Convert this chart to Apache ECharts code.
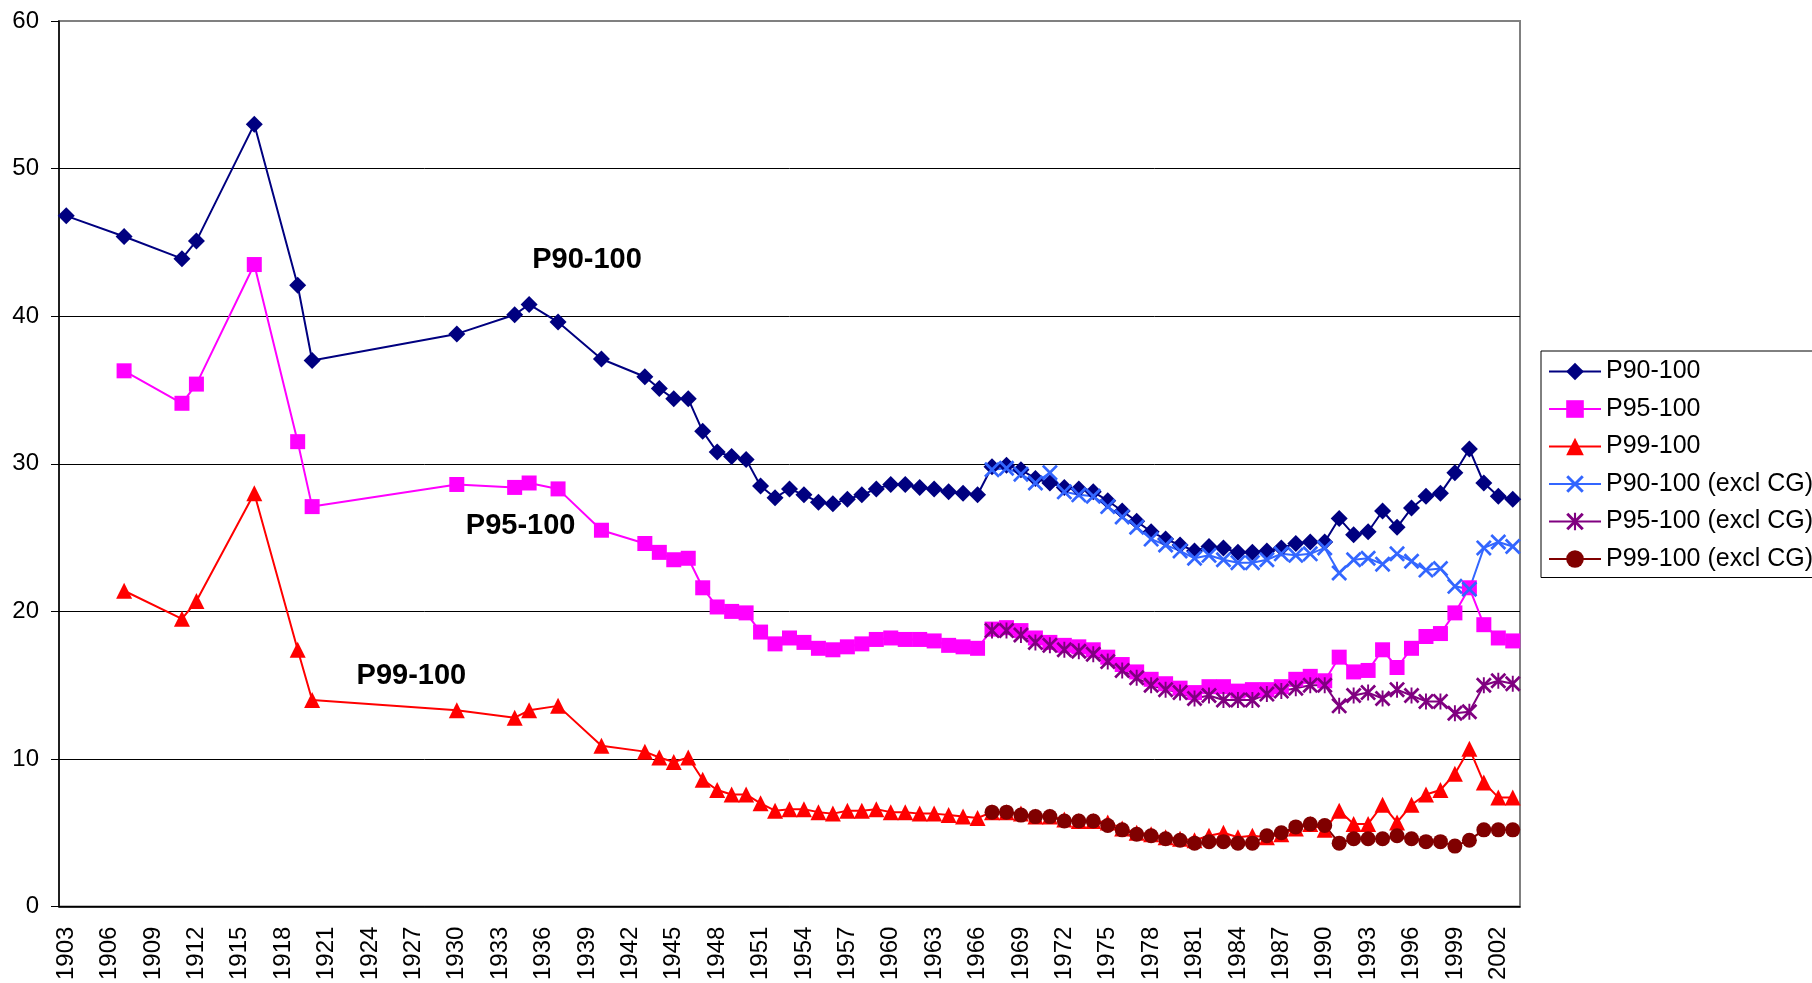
<!DOCTYPE html>
<html>
<head>
<meta charset="utf-8">
<script src="https://cdn.jsdelivr.net/npm/echarts@6/dist/echarts.min.js"></script>
<style>
  html, body { margin: 0; padding: 0; background: #fff; }
  #main { width: 1812px; height: 983px; }
</style>
</head>
<body>
<div id="main"></div>
<script>
// categories: every year 1903-2003
var years = [];
for (var y = 1903; y <= 2003; y++) years.push(String(y));

// years with data for the full-income series
var dataYears = [1903, 1907, 1911, 1912, 1916, 1919, 1920, 1930, 1934, 1935, 1937, 1940,
    1943, 1944, 1945, 1946, 1947, 1948, 1949, 1950, 1951, 1952, 1953, 1954, 1955, 1956,
    1957, 1958, 1959, 1960, 1961, 1962, 1963, 1964, 1965, 1966, 1967, 1968, 1969, 1970,
    1971, 1972, 1973, 1974, 1975, 1976, 1977, 1978, 1979, 1980, 1981, 1982, 1983, 1984,
    1985, 1986, 1987, 1988, 1989, 1990, 1991, 1992, 1993, 1994, 1995, 1996, 1997, 1998,
    1999, 2000, 2001, 2002, 2003];

var p90 = [46.8, 45.4, 43.9, 45.1, 53.0, 42.1, 37.0, 38.8, 40.1, 40.8, 39.6, 37.1,
    35.9, 35.1, 34.4, 34.4, 32.2, 30.8, 30.5, 30.3, 28.5, 27.7, 28.3, 27.9, 27.4, 27.3,
    27.6, 27.9, 28.3, 28.6, 28.6, 28.4, 28.3, 28.1, 28.0, 27.9, 29.8, 29.9, 29.6, 29.0,
    28.7, 28.4, 28.3, 28.1, 27.5, 26.8, 26.1, 25.4, 24.9, 24.5, 24.1, 24.4, 24.3, 24.0,
    24.0, 24.1, 24.3, 24.6, 24.7, 24.7, 26.3, 25.2, 25.4, 26.8, 25.7, 27.0, 27.8, 28.0,
    29.4, 31.0, 28.7, 27.8, 27.6];

var p95 = [null, 36.3, 34.1, 35.4, 43.5, 31.5, 27.1, 28.6, 28.4, 28.7, 28.3, 25.5,
    24.6, 24.0, 23.5, 23.6, 21.6, 20.3, 20.0, 19.9, 18.6, 17.8, 18.2, 17.9, 17.5, 17.4,
    17.6, 17.8, 18.1, 18.2, 18.1, 18.1, 18.0, 17.7, 17.6, 17.5, 18.8, 18.9, 18.7, 18.2,
    17.9, 17.7, 17.6, 17.4, 16.9, 16.4, 15.9, 15.4, 15.1, 14.8, 14.5, 14.9, 14.9, 14.6,
    14.7, 14.7, 14.9, 15.4, 15.6, 15.3, 16.9, 15.9, 16.0, 17.4, 16.2, 17.5, 18.3, 18.5,
    19.9, 21.6, 19.1, 18.2, 18.0];

var p99 = [null, 21.4, 19.5, 20.7, 28.0, 17.4, 14.0, 13.3, 12.8, 13.3, 13.6, 10.9,
    10.5, 10.1, 9.8, 10.1, 8.6, 7.9, 7.6, 7.6, 7.0, 6.5, 6.6, 6.6, 6.4, 6.3,
    6.5, 6.5, 6.6, 6.4, 6.4, 6.3, 6.3, 6.2, 6.1, 6.0, 6.4, 6.4, 6.3, 6.1,
    6.1, 5.9, 5.8, 5.8, 5.7, 5.3, 5.0, 4.9, 4.7, 4.6, 4.5, 4.8, 5.0, 4.7,
    4.8, 4.7, 4.9, 5.3, 5.6, 5.2, 6.5, 5.6, 5.6, 6.9, 5.7, 6.9, 7.6, 7.9,
    9.0, 10.7, 8.4, 7.4, 7.4];

// years with data for the series excluding capital gains
var exclYears = [1967, 1968, 1969, 1970, 1971, 1972, 1973, 1974, 1975, 1976, 1977, 1978,
    1979, 1980, 1981, 1982, 1983, 1984, 1985, 1986, 1987, 1988, 1989, 1990, 1991, 1992,
    1993, 1994, 1995, 1996, 1997, 1998, 1999, 2000, 2001, 2002, 2003];

var p90ex = [29.6, 29.7, 29.3, 28.7, 29.4, 28.1, 27.9, 27.8, 27.1, 26.4, 25.7, 24.9,
    24.5, 24.1, 23.6, 23.8, 23.5, 23.3, 23.3, 23.5, 23.9, 23.8, 23.9, 24.3, 22.6, 23.5,
    23.6, 23.2, 23.9, 23.4, 22.8, 22.9, 21.7, 21.5, 24.3, 24.7, 24.4];

var p95ex = [18.7, 18.7, 18.4, 17.9, 17.7, 17.4, 17.3, 17.1, 16.6, 16.0, 15.5, 15.0,
    14.7, 14.5, 14.1, 14.3, 14.0, 14.0, 14.0, 14.4, 14.6, 14.8, 15.0, 15.0, 13.6, 14.3,
    14.5, 14.1, 14.7, 14.3, 13.9, 13.9, 13.1, 13.2, 15.0, 15.3, 15.1];

var p99ex = [6.4, 6.4, 6.2, 6.1, 6.1, 5.8, 5.8, 5.8, 5.5, 5.2, 4.9, 4.8,
    4.6, 4.5, 4.3, 4.4, 4.4, 4.3, 4.3, 4.8, 5.0, 5.4, 5.6, 5.5, 4.3, 4.6,
    4.6, 4.6, 4.8, 4.6, 4.4, 4.4, 4.1, 4.5, 5.2, 5.2, 5.2];

var yTicks = [0, 10, 20, 30, 40, 50, 60];

function pairs(yrs, vals) {
    var out = [];
    for (var i = 0; i < yrs.length; i++) {
        if (vals[i] != null) out.push([String(yrs[i]), vals[i]]);
    }
    return out;
}

var FONT = '"Liberation Sans", Arial, sans-serif';
var crossPath = 'path://M0,1.2L1.2,0L5,3.8L8.8,0L10,1.2L6.2,5L10,8.8L8.8,10L5,6.2L1.2,10L0,8.8L3.8,5Z';
var starPath = 'path://M0,1.2L1.2,0L5,3.8L8.8,0L10,1.2L6.2,5L10,8.8L8.8,10L5,6.2L1.2,10L0,8.8L3.8,5Z' +
    'M4.4,0L5.6,0L5.6,10L4.4,10Z';

function lineSeries(name, color, symbol, size, data, label) {
    var s = {
        name: name,
        type: 'line',
        data: data,
        symbol: symbol,
        symbolSize: size,
        showAllSymbol: true,
        lineStyle: { color: color, width: 2 },
        itemStyle: { color: color },
        emphasis: { disabled: true },
        animation: false
    };
    if (label) {
        s.markPoint = {
            symbol: 'circle',
            symbolSize: 1,
            itemStyle: { color: 'transparent' },
            label: {
                show: true,
                position: 'inside',
                offset: label.offset || [0, 0],
                formatter: name,
                color: '#000',
                fontFamily: FONT,
                fontWeight: 'bold',
                fontSize: 29
            },
            data: [{ coord: [label.year, label.value] }]
        };
    }
    return s;
}

var myChart = echarts.init(document.getElementById('main'));

var option = {
    animation: false,
    backgroundColor: '#fff',
    grid: {
        left: 59,
        right: 292,
        top: 21,
        bottom: 76,
        show: true,
        borderColor: '#808080',
        borderWidth: 2
    },
    legend: {
        orient: 'vertical',
        left: 1541,
        top: 351,
        itemWidth: 52,
        itemHeight: 22,
        itemGap: 12.5,
        padding: [8, 10, 6, 7],
        borderColor: '#000',
        borderWidth: 1,
        backgroundColor: '#fff',
        textStyle: { fontFamily: FONT, fontSize: 25, color: '#000', lineHeight: 25 },
        data: ['P90-100', 'P95-100', 'P99-100', 'P90-100 (excl CG)', 'P95-100 (excl CG)', 'P99-100 (excl CG)']
    },
    xAxis: {
        type: 'category',
        data: years,
        boundaryGap: true,
        axisLine: { lineStyle: { color: '#000', width: 1.5 } },
        axisTick: { interval: 0, length: 7, lineStyle: { color: '#000' } },
        axisLabel: {
            interval: 2,
            rotate: 90,
            margin: 20,
            fontFamily: FONT,
            fontSize: 24,
            color: '#000'
        },
        splitLine: { show: false }
    },
    yAxis: {
        type: 'value',
        min: yTicks[0],
        max: yTicks[yTicks.length - 1],
        interval: 10,
        axisLine: { show: true, lineStyle: { color: '#000', width: 1.5 } },
        axisTick: { show: true, length: 8, lineStyle: { color: '#000' } },
        axisLabel: { margin: 20, fontFamily: FONT, fontSize: 24, color: '#000' },
        splitLine: {
            lineStyle: {
                color: ['#000', '#000', '#000', '#000', '#000', '#000', '#808080'],
                width: 1
            }
        }
    },
    series: [
        lineSeries('P90-100', '#000080', 'diamond', 17, pairs(dataYears, p90),
            { year: '1939', value: 43.8 }),
        lineSeries('P95-100', '#FF00FF', 'rect', 15, pairs(dataYears, p95),
            { year: '1934', value: 25.8, offset: [6, 0] }),
        lineSeries('P99-100', '#FF0000', 'triangle', 16, pairs(dataYears, p99),
            { year: '1927', value: 15.65, offset: [-2, 0] }),
        lineSeries('P90-100 (excl CG)', '#3366FF', crossPath, 16, pairs(exclYears, p90ex)),
        lineSeries('P95-100 (excl CG)', '#800080', starPath, 16, pairs(exclYears, p95ex)),
        lineSeries('P99-100 (excl CG)', '#800000', 'circle', 15, pairs(exclYears, p99ex))
    ]
};

myChart.setOption(option);
</script>
</body>
</html>
